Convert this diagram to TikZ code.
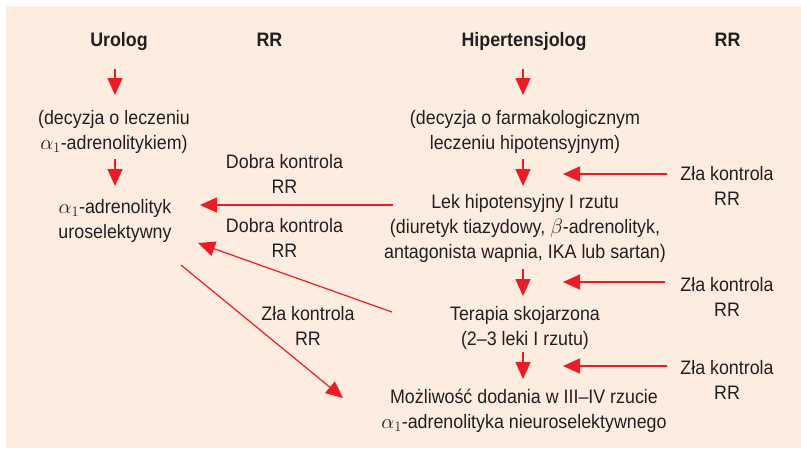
\documentclass[tikz,border=0pt]{standalone}
\usepackage{fontspec}
\setmainfont{Liberation Sans}[FakeStretch=0.915]
\usetikzlibrary{arrows.meta}
\definecolor{bgpeach}{RGB}{253,237,224}
\definecolor{arrred}{RGB}{237,28,36}
\definecolor{txt}{RGB}{35,31,32}
\begin{document}
\begin{tikzpicture}[x=1pt,y=-1pt,
 every node/.style={inner sep=0pt, text=txt, font=\fontsize{19.5}{25}\selectfont, align=center, anchor=base},
 head/.style={font=\fontsize{19.5}{25}\selectfont\bfseries},
 arr/.style={draw=arrred, line width=1.6pt, -{Triangle[length=17pt,width=15pt]}},
 diag/.style={arr, line width=1.2pt}
]
\useasboundingbox (0,0) rectangle (801,448);
\fill[white] (0,0) rectangle (801,448);
\fill[bgpeach] (6,6) rectangle (801,448);

% base anchor = baseline of the last line
\node[head] (urolog) at (119,46) {Urolog};
\node[head] (rrL) at (269.5,46) {RR};
\node[head] (hiper) at (524,46) {Hipertensjolog};
\node[head] (rrR) at (727.5,46) {RR};

\node (decL) at (114,149) {(decyzja o leczeniu\\$\alpha_1$-adrenolitykiem)};
\node (alfa) at (115,238) {$\alpha_1$-adrenolityk\\uroselektywny};
\node (decR) at (525,149) {(decyzja o farmakologicznym\\leczeniu hipotensyjnym)};
\node (lek) at (525,258) {Lek hipotensyjny I rzutu\\(diuretyk tiazydowy, $\beta$-adrenolityk,\\antagonista wapnia, IKA lub sartan)};
\node (terapia) at (525,345) {Terapia skojarzona\\(2–3 leki I rzutu)};
\node (mozl) at (524,428) {Możliwość dodania w III–IV rzucie\\$\alpha_1$-adrenolityka nieuroselektywnego};

\node (zk1) at (727,205.7) {Zła kontrola\\RR};
\node (zk2) at (727,316) {Zła kontrola\\RR};
\node (zk3) at (727,399) {Zła kontrola\\RR};
\node (dk1) at (284.5,193.3) {Dobra kontrola\\RR};
\node (dk2) at (284.5,257.7) {Dobra kontrola\\RR};
\node (zk4) at (308,345) {Zła kontrola\\RR};

\coordinate (v1a) at (115,69);  \coordinate (v1b) at (115,95);
\coordinate (v2a) at (115,159); \coordinate (v2b) at (115,186);
\coordinate (v3a) at (523,69);  \coordinate (v3b) at (523,95);
\coordinate (v4a) at (523,159); \coordinate (v4b) at (523,186);
\coordinate (v5a) at (523,269); \coordinate (v5b) at (523,296);
\coordinate (v6a) at (523,352); \coordinate (v6b) at (523,379);
\coordinate (h1a) at (667,174); \coordinate (h1b) at (563,174);
\coordinate (h2a) at (665,282); \coordinate (h2b) at (563,282);
\coordinate (h3a) at (667,366); \coordinate (h3b) at (563,366);
\coordinate (hla) at (393,205); \coordinate (hlb) at (200,205);
\coordinate (d1a) at (392,312); \coordinate (d1b) at (198,243);
\coordinate (d2a) at (181,265); \coordinate (d2b) at (343,398);

\draw[arr] (v1a) -- (v1b);
\draw[arr] (v2a) -- (v2b);
\draw[arr] (v3a) -- (v3b);
\draw[arr] (v4a) -- (v4b);
\draw[arr] (v5a) -- (v5b);
\draw[arr] (v6a) -- (v6b);
\draw[arr] (h1a) -- (h1b);
\draw[arr] (h2a) -- (h2b);
\draw[arr] (h3a) -- (h3b);
\draw[arr] (hla) -- (hlb);
\draw[diag] (d1a) -- (d1b);
\draw[diag] (d2a) -- (d2b);
\end{tikzpicture}
\end{document}
